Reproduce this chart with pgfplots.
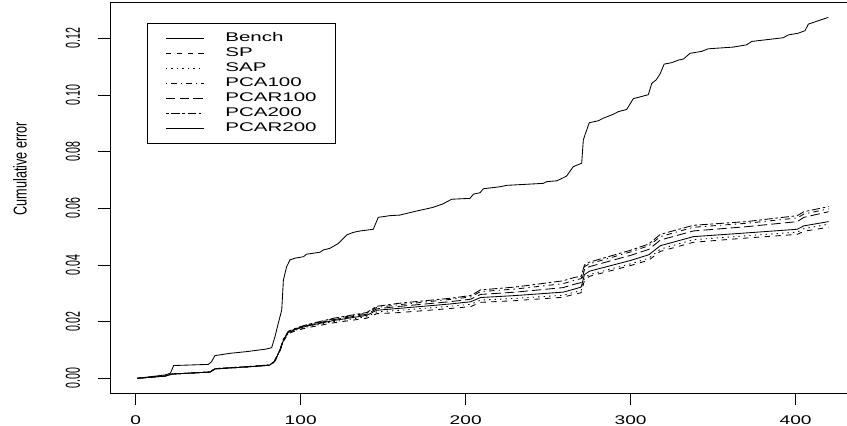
\documentclass[border=0pt]{standalone}
\usepackage{pgfplots}
\pgfplotsset{compat=1.18}
\usepackage{fontspec}
\setmainfont{Liberation Sans}
\newfontfamily\xtickfont[FakeStretch=1.52]{Liberation Sans}
\newfontfamily\legfont[FakeStretch=1.63]{Liberation Sans}
\newfontfamily\ytickfont[FakeStretch=0.525]{Liberation Sans}
\newfontfamily\ylabfont[FakeStretch=0.68]{Liberation Sans}
\begin{document}
\begin{tikzpicture}
\begin{axis}[
  at={(110pt,32.7pt)}, anchor=south west,
  scale only axis, width=748pt, height=390.6pt,
  xmin=-15.6, xmax=437.8, ymin=-0.0053, ymax=0.13257,
  axis line style={line width=0.8pt, black},
  tick align=outside, major tick length=12pt,
  tick style={line width=0.8pt, black},
  xtick={0,100,200,300,400}, xticklabels={0,100,200,300,400},
  ytick={0,0.02,0.04,0.06,0.08,0.10,0.12},
  yticklabels={0.00,0.02,0.04,0.06,0.08,0.10,0.12},
  xtick pos=bottom, ytick pos=left,
  xticklabel style={font=\xtickfont\fontsize{12.6}{14}\selectfont, anchor=base, yshift=-18.7pt},
  yticklabel style={font=\ytickfont\fontsize{20.2}{22}\selectfont, xshift=-18pt, rotate=90, anchor=base},
  ylabel={Cumulative error},
  ylabel style={font=\ylabfont\fontsize{18.6}{20}\selectfont, at={(axis description cs:-0.1203,0.5748)}, anchor=center},
  legend cell align=left,
  legend image code/.code={\draw[#1, line width=0.85pt] (0pt,4pt) -- (38pt,4pt);},
  legend style={at={(axis description cs:0.04947,0.94803)}, anchor=north west,
    draw=black, line width=0.8pt, outer sep=0pt, inner xsep=18.5pt, inner ysep=9pt,
    row sep=3pt,
    font=\legfont\fontsize{12.6}{14}\selectfont,
    nodes={inner sep=0pt, text height=10pt, text depth=2pt, anchor=base west},
    /tikz/every odd column/.append style={column sep=21pt}},
  no markers,
  every axis plot/.append style={line width=0.85pt, black},
]
% Bench
\addplot[black, solid] coordinates {(1,0) (18,0.0012) (21,0.0018) (23,0.0045) (44,0.0049) (46,0.0059) (48,0.0080) (57,0.0088) (67,0.0094) (79,0.0103) (82.4,0.0108) (84.4,0.0147) (86.4,0.0194) (88.5,0.0241) (89.5,0.0347) (91.5,0.0394) (93.5,0.0418) (96.6,0.0424) (101.6,0.0429) (103.6,0.0438) (111.7,0.0445) (113.7,0.0453) (117.8,0.0459) (122.8,0.0476) (127.9,0.0506) (131.9,0.0515) (136,0.0520) (144,0.0526) (147,0.0568) (154,0.0574) (160,0.0576) (170,0.0590) (180,0.0603) (186,0.0615) (191.5,0.0632) (202.6,0.0635) (204.7,0.0650) (208.7,0.0655) (210.7,0.0669) (220.8,0.0676) (224.9,0.0681) (247,0.0688) (249.1,0.0694) (255.2,0.0697) (259.2,0.0708) (261.2,0.0714) (265.2,0.0747) (270.3,0.0759) (271.3,0.0841) (272.3,0.0859) (274.9,0.0902) (280.4,0.0909) (283.4,0.0918) (289.5,0.0932) (292.5,0.0941) (297.6,0.0949) (301.6,0.0987) (303.7,0.0990) (310.7,0.1001) (312.8,0.1041) (315.4,0.1053) (317.8,0.1074) (320.3,0.1109) (324.9,0.1114) (328.9,0.1123) (332,0.1127) (336,0.1147) (343.1,0.1154) (347.1,0.1163) (362.2,0.1169) (370.3,0.1177) (373.4,0.1189) (392.5,0.1202) (395.6,0.1212) (401.6,0.1218) (405.7,0.1227) (407.7,0.1250) (419.8,0.1274)};
\addlegendentry{Bench}
% SP
\addplot[black, dash pattern=on 5.4pt off 5.4pt] coordinates {(1,0) (18,0.0008) (22,0.0015) (45,0.0022) (48,0.0033) (67,0.0040) (81,0.0046) (84,0.0057) (87.5,0.0097) (89.5,0.0130) (92.5,0.0158) (97.6,0.0169) (103.6,0.0178) (120,0.0196) (140,0.0212) (146,0.0228) (160,0.0232) (190,0.0246) (203,0.0253) (209,0.0268) (230,0.0274) (259,0.0286) (266,0.0297) (270,0.0302) (272,0.0346) (275,0.0360) (300,0.0398) (311,0.0417) (318,0.0448) (338,0.0480) (370,0.0495) (401,0.0508) (405,0.0519) (420,0.0533)};
\addlegendentry{SP}
% SAP
\addplot[black, dash pattern=on 1.36pt off 4.1pt] coordinates {(1,0) (18,0.0008) (22,0.0015) (45,0.0022) (48,0.0033) (67,0.0040) (81,0.0046) (84,0.0057) (87.5,0.0098) (89.5,0.0132) (92.5,0.0160) (97.6,0.0171) (103.6,0.0181) (120,0.0200) (140,0.0217) (146,0.0234) (160,0.0240) (190,0.0254) (203,0.0261) (209,0.0276) (230,0.0282) (259,0.0293) (266,0.0304) (270,0.0310) (272,0.0354) (275,0.0366) (300,0.0404) (311,0.0424) (318,0.0456) (338,0.0489) (370,0.0503) (401,0.0516) (405,0.0528) (420,0.0544)};
\addlegendentry{SAP}
% PCA100
\addplot[black, dash pattern=on 1.36pt off 4.1pt on 5.4pt off 4.1pt] coordinates {(1,0) (18,0.0008) (22,0.0015) (45,0.0022) (48,0.0034) (67,0.0041) (81,0.0047) (84,0.0059) (87.5,0.0101) (89.5,0.0137) (92.5,0.0165) (97.6,0.0177) (103.6,0.0188) (120,0.0210) (140,0.0230) (146,0.0250) (160,0.0260) (190,0.0278) (203,0.0287) (209,0.0306) (230,0.0315) (259,0.0334) (266,0.0346) (270,0.0352) (272,0.0394) (275,0.0404) (300,0.0446) (311,0.0468) (318,0.0500) (338,0.0533) (370,0.0547) (401,0.0566) (405,0.0580) (420,0.0598)};
\addlegendentry{PCA100}
% PCAR100
\addplot[black, dash pattern=on 9.5pt off 4.1pt] coordinates {(1,0) (18,0.0008) (22,0.0015) (45,0.0022) (48,0.0033) (67,0.0040) (81,0.0046) (84,0.0058) (87.5,0.0100) (89.5,0.0136) (92.5,0.0164) (97.6,0.0176) (103.6,0.0186) (120,0.0207) (140,0.0226) (146,0.0245) (160,0.0254) (190,0.0270) (203,0.0279) (209,0.0296) (230,0.0304) (259,0.0320) (266,0.0332) (270,0.0338) (272,0.0384) (275,0.0394) (300,0.0434) (311,0.0455) (318,0.0488) (338,0.0520) (370,0.0535) (401,0.0553) (405,0.0568) (420,0.0588)};
\addlegendentry{PCAR100}
% PCA200
\addplot[black, dash pattern=on 2.7pt off 2.7pt on 8.2pt off 2.7pt] coordinates {(1,0) (18,0.0008) (22,0.0015) (45,0.0022) (48,0.0034) (67,0.0041) (81,0.0047) (84,0.0059) (87.5,0.0102) (89.5,0.0138) (92.5,0.0166) (97.6,0.0178) (103.6,0.0189) (120,0.0212) (140,0.0232) (146,0.0254) (160,0.0265) (190,0.0282) (203,0.0292) (209,0.0312) (230,0.0322) (259,0.0344) (266,0.0356) (270,0.0360) (272,0.0400) (275,0.0410) (300,0.0452) (311,0.0474) (318,0.0508) (338,0.0540) (370,0.0553) (401,0.0574) (405,0.0588) (420,0.0606)};
\addlegendentry{PCA200}
% PCAR200
\addplot[black, solid] coordinates {(1,0) (18,0.0008) (22,0.0015) (45,0.0022) (48,0.0033) (67,0.0040) (81,0.0046) (84,0.0058) (87.5,0.0100) (89.5,0.0135) (92.5,0.0162) (97.6,0.0174) (103.6,0.0184) (120,0.0204) (140,0.0222) (146,0.0240) (160,0.0247) (190,0.0262) (203,0.0270) (209,0.0285) (230,0.0292) (259,0.0304) (266,0.0315) (270,0.0322) (272,0.0366) (275,0.0378) (300,0.0416) (311,0.0436) (318,0.0468) (338,0.0500) (370,0.0513) (401,0.0526) (405,0.0538) (420,0.0553)};
\addlegendentry{PCAR200}
\end{axis}
\pgfresetboundingbox
\path[use as bounding box] (0,0) rectangle (847pt,426pt);
\end{tikzpicture}
\end{document}
